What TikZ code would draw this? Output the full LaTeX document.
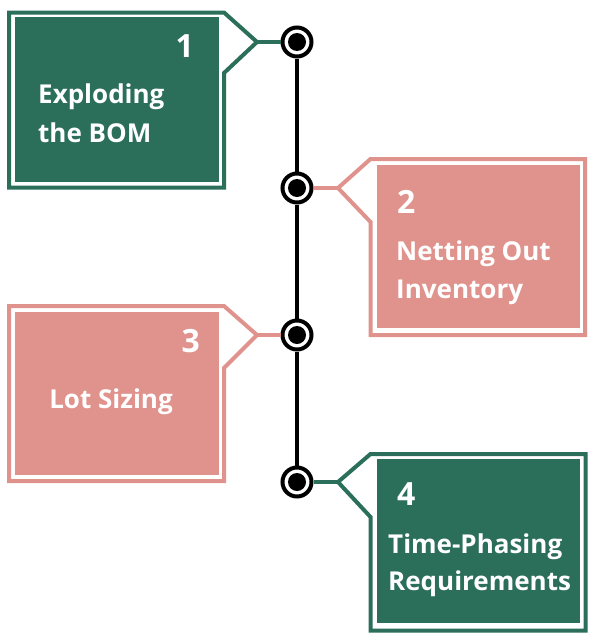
\documentclass[tikz,border=0pt]{standalone}
\usepackage{fontspec}
\setmainfont{Open Sans}
\definecolor{grn}{HTML}{2B6E5A}
\definecolor{pnk}{HTML}{E0938D}
\begin{document}
\begin{tikzpicture}[x=1pt,y=-1pt,
  outl/.style={line width=4pt,line join=miter},
  dot/.style={circle,draw=black,line width=4pt,fill=white,minimum size=29pt,inner sep=0pt},
  body/.style={text=white,font=\fontsize{26}{30}\selectfont\bfseries,inner sep=0pt},
  num/.style={text=white,font=\fontsize{32}{36}\selectfont\bfseries,inner sep=0pt},
  conn/.style={line width=3.5pt}]
\useasboundingbox (0,0) rectangle (600,640);
% tips of callouts
\coordinate (p1) at (257,42);
\coordinate (p2) at (338,188);
\coordinate (p3) at (257,335);
\coordinate (p4) at (338,482);
% circles
\node[dot] (c1) at (297,42) {};
\node[dot] (c2) at (297,188) {};
\node[dot] (c3) at (297,335) {};
\node[dot] (c4) at (297,482) {};
\draw[line width=3.5pt] (c1) -- (c2) (c2) -- (c3) (c3) -- (c4);
\foreach \c in {c1,c2,c3,c4} \fill[black] (\c) circle (9);
% box 1
\draw[grn,outl] (9,12.5) -- (224,12.5) -- (p1) -- (224,73) -- (224,187.5) -- (9,187.5) -- cycle;
\fill[grn] (15,17) rectangle (219,182);
\draw[grn,conn] (p1) -- (c1);
% box 2
\draw[pnk,outl] (338,188) -- (370.5,159) -- (585,159) -- (585,335) -- (370.5,335) -- (370.5,222) -- cycle;
\fill[pnk] (377,165) rectangle (580,328);
\draw[pnk,conn] (p2) -- (c2);
% box 3
\draw[pnk,outl] (9,306) -- (224,306) -- (p3) -- (224,368) -- (224,481) -- (9,481) -- cycle;
\fill[pnk] (15,312) rectangle (219,475);
\draw[pnk,conn] (p3) -- (c3);
% box 4
\draw[grn,outl] (338,482) -- (370.5,454) -- (585.5,454) -- (585.5,630.5) -- (370.5,630.5) -- (370.5,517) -- cycle;
\fill[grn] (377,459) rectangle (580,623);
\draw[grn,conn] (p4) -- (c4);
% texts
\node[num,anchor=base east] (n1) at (194,57) {1};
\node[body,anchor=base west] (t1a) at (38,103) {Exploding};
\node[body,anchor=base west] (t1b) at (38,142) {the BOM};
\node[num,anchor=base west] (n2) at (397,213) {2};
\node[body,anchor=base west] (t2a) at (396,260) {Netting Out};
\node[body,anchor=base west] (t2b) at (396,298) {Inventory};
\node[num,anchor=base east] (n3) at (200,352) {3};
\node[body,anchor=base] (t3) at (111,408) {Lot Sizing};
\node[num,anchor=base west] (n4) at (397,505) {4};
\node[body,anchor=base west] (t4a) at (388,553) {Time-Phasing};
\node[body,anchor=base west] (t4b) at (388,590) {Requirements};
\end{tikzpicture}
\end{document}
